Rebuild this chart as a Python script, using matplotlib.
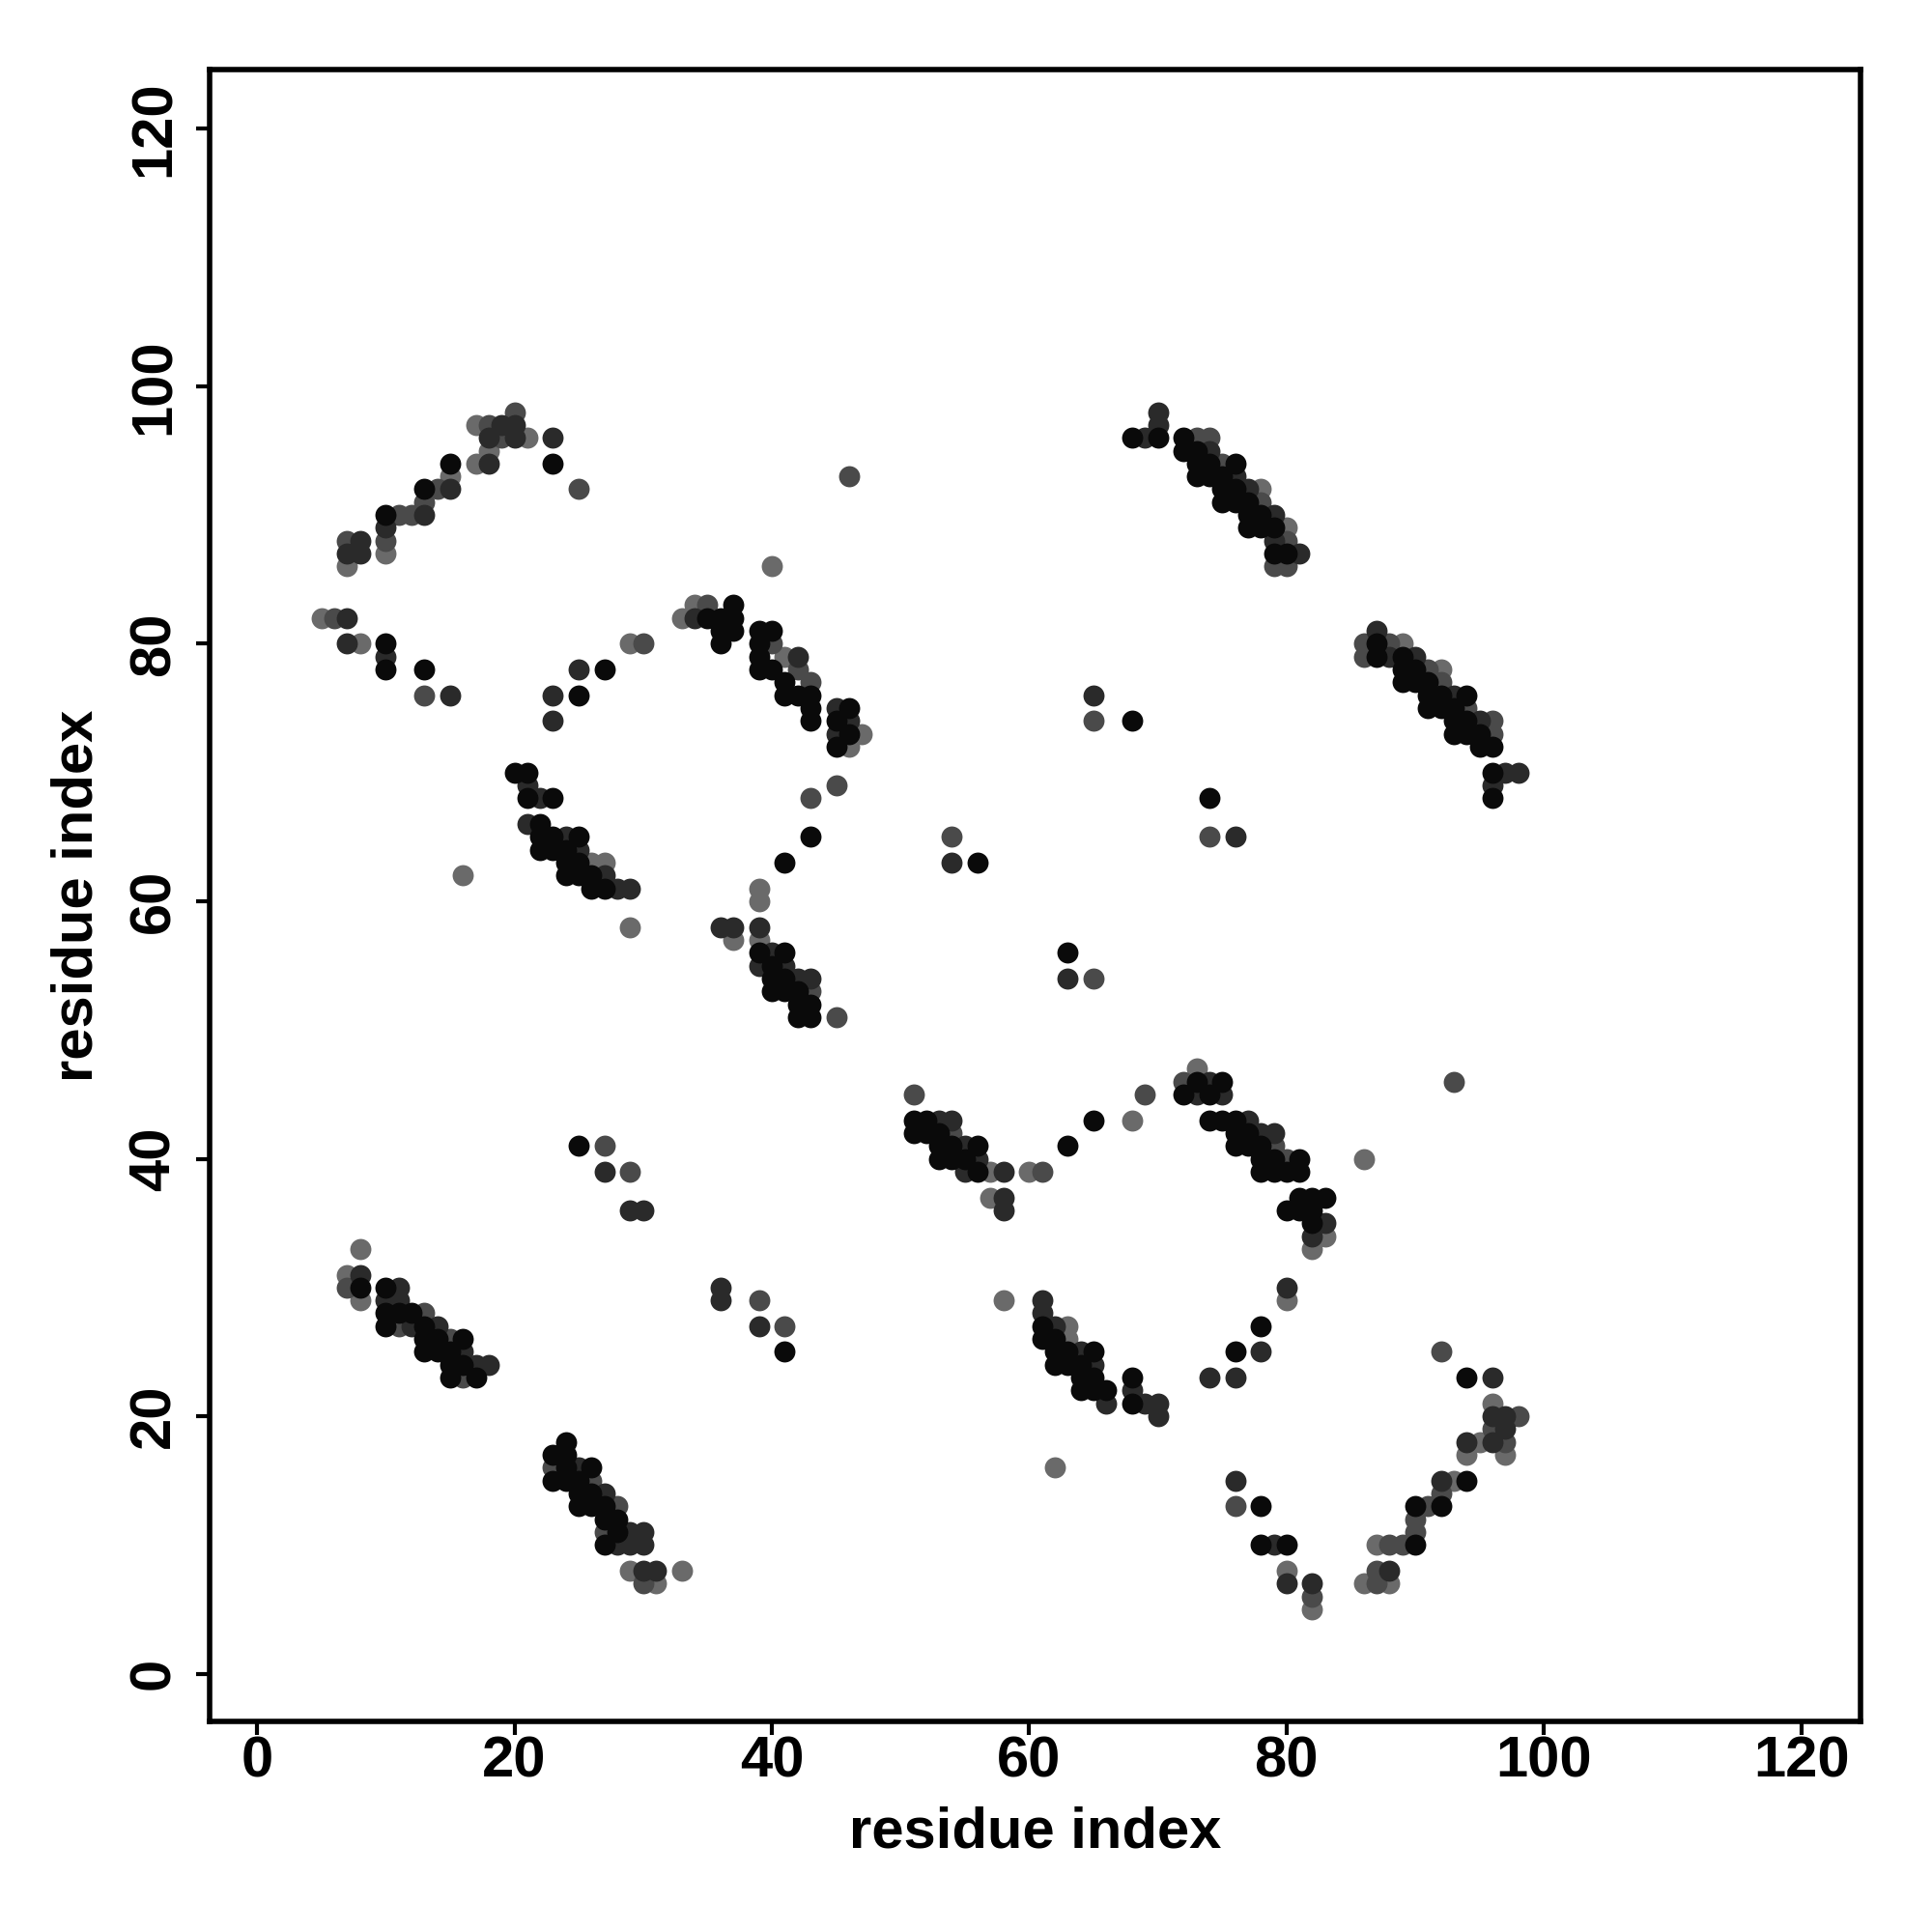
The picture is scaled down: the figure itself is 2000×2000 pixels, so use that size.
import matplotlib
matplotlib.use("Agg")
import matplotlib.pyplot as plt

# contact points (residue i, residue j), grouped by grey level
black_pts = [
    (15, 94), (23, 94), (13, 92), (10, 90), (10, 80), (10, 78), (13, 78), (27, 78), (25, 76),
    (37, 83), (35, 82), (36, 82), (37, 82), (36, 81), (37, 81), (39, 81), (40, 81),
    (36, 80), (39, 80), (39, 79), (39, 78), (40, 78), (41, 77), (41, 76), (42, 76), (43, 76),
    (43, 75), (46, 75), (43, 74), (45, 74), (46, 73), (45, 72), (20, 70), (21, 70),
    (21, 68), (23, 68), (22, 66), (22, 65), (23, 65), (25, 65), (43, 65), (22, 64), (23, 64),
    (24, 64), (24, 63), (25, 63), (41, 63), (24, 62), (25, 62), (26, 62), (26, 61), (27, 61),
    (39, 56), (41, 56), (40, 55), (40, 54), (41, 54), (40, 53), (41, 53), (42, 53),
    (42, 52), (43, 52), (42, 51), (43, 51),
    (68, 96), (70, 96), (72, 96), (72, 95), (73, 95), (73, 94), (74, 94), (76, 94),
    (73, 93), (74, 93), (75, 93), (75, 92), (76, 92), (75, 91), (76, 91), (77, 91),
    (77, 90), (78, 90), (77, 89), (78, 89), (79, 89), (79, 87), (80, 87),
    (87, 80), (87, 79), (89, 79), (89, 78), (90, 78), (89, 77), (90, 77), (91, 77),
    (91, 76), (92, 76), (94, 76), (91, 75), (92, 75), (93, 75), (93, 74), (94, 74),
    (93, 73), (94, 73), (95, 73), (95, 72), (96, 72), (96, 70), (96, 68),
    (68, 74), (74, 68), (56, 63), (63, 56),
    (51, 43), (52, 43), (65, 43), (51, 42), (52, 42), (53, 42), (53, 41), (54, 41), (56, 41),
    (63, 41), (53, 40), (54, 40), (55, 40), (56, 39),
    (73, 46), (75, 46), (72, 45), (74, 45), (74, 43), (75, 43), (76, 43), (76, 42), (77, 42),
    (76, 41), (77, 41), (78, 41), (78, 40), (79, 40), (81, 40), (78, 39), (79, 39), (80, 39),
    (81, 39), (81, 37), (82, 37), (83, 37), (80, 36), (81, 36), (82, 36), (82, 35),
    (25, 41), (41, 25),
    (8, 30), (10, 30), (10, 28), (11, 28), (12, 28), (10, 27), (13, 27), (13, 26), (14, 26),
    (16, 26), (13, 25), (14, 25), (15, 25), (15, 24), (16, 24), (15, 23), (17, 23),
    (24, 18), (23, 17), (24, 17), (24, 16), (26, 16), (23, 15), (24, 15), (25, 15),
    (25, 14), (26, 14), (25, 13), (26, 13), (27, 13), (27, 12), (28, 12), (28, 11), (27, 10),
    (61, 27), (61, 26), (62, 26), (62, 25), (63, 25), (65, 25), (62, 24), (63, 24), (64, 24),
    (64, 23), (65, 23), (68, 23), (64, 22), (65, 22), (66, 22), (68, 21), (76, 25), (78, 27),
    (94, 23), (94, 15), (78, 13), (90, 13), (92, 13), (78, 10), (80, 10), (90, 10),
]

dark_pts = [
    (19, 97), (20, 97), (18, 96), (20, 96), (23, 96), (18, 94), (15, 92), (13, 90), (10, 89),
    (8, 88), (7, 87), (8, 87), (7, 82), (7, 80), (10, 79), (25, 78), (15, 76), (23, 76), (23, 74),
    (34, 82), (42, 79), (45, 75), (46, 74), (45, 73), (21, 69), (22, 68), (21, 66), (24, 65),
    (25, 64), (27, 62), (28, 61), (29, 61), (36, 58), (37, 58), (39, 58), (40, 56), (39, 55),
    (41, 55), (42, 54), (43, 54),
    (70, 98), (70, 97), (69, 96), (74, 95), (76, 93), (77, 92), (79, 90), (79, 88), (81, 87),
    (87, 81), (88, 79), (90, 79), (93, 76), (95, 74), (97, 70), (98, 70), (96, 69),
    (65, 76), (76, 65), (54, 63), (63, 54),
    (53, 43), (54, 43), (55, 41), (56, 40), (55, 39), (58, 39), (58, 37), (58, 36),
    (74, 46), (73, 45), (75, 45), (77, 43), (78, 42), (79, 42), (83, 35), (82, 34),
    (27, 39), (29, 36), (30, 36), (36, 30), (36, 29), (39, 27),
    (8, 31), (11, 30), (10, 29), (11, 29), (12, 27), (14, 27), (16, 25), (17, 24), (18, 24),
    (25, 16), (27, 14), (29, 11), (30, 11), (28, 10), (29, 10), (30, 10), (30, 8), (31, 8),
    (61, 29), (61, 28), (62, 27), (64, 25), (65, 24), (74, 23), (76, 23), (68, 22), (66, 21),
    (69, 21), (70, 21), (70, 20), (78, 25), (80, 30), (76, 15),
    (96, 23), (96, 20), (97, 20), (97, 19), (94, 18), (96, 18), (92, 15), (79, 10), (88, 8),
    (80, 7), (82, 7),
]

mid_pts = [
    (20, 98), (18, 97), (19, 96), (14, 92), (25, 92), (13, 91), (11, 90), (12, 90), (7, 88),
    (10, 88), (6, 82), (13, 76),
    (35, 83), (30, 80), (40, 80), (42, 78), (43, 77), (45, 69), (43, 68), (43, 53), (45, 51),
    (73, 96), (74, 96), (75, 94), (78, 91), (80, 88), (79, 86), (80, 86),
    (86, 80), (88, 80), (86, 79), (91, 78), (92, 77), (94, 75), (96, 74), (96, 73),
    (46, 93), (65, 74), (74, 65), (54, 65), (65, 54),
    (51, 45), (54, 42), (61, 39), (69, 45), (72, 46), (79, 41), (80, 40), (93, 46),
    (27, 41), (29, 39), (39, 29), (41, 27),
    (7, 30), (13, 28), (11, 27), (15, 26), (16, 23),
    (23, 16), (26, 15), (28, 13), (27, 11), (30, 7),
    (92, 25), (98, 20), (96, 19), (97, 18), (92, 14), (76, 13), (91, 13), (90, 12), (90, 11),
    (88, 10), (89, 10), (87, 8), (87, 7), (82, 6),
]

light_pts = [
    (17, 97), (21, 96), (18, 95), (17, 94), (15, 93), (10, 87), (7, 86), (5, 82), (8, 80),
    (40, 86), (34, 83), (33, 82), (29, 80), (41, 79), (47, 73), (46, 72),
    (26, 63), (27, 63), (39, 61), (39, 60), (29, 58), (37, 57), (39, 57), (16, 62),
    (78, 92), (80, 89), (89, 80), (92, 78),
    (68, 43), (57, 39), (60, 39), (57, 37), (73, 47), (86, 40), (83, 34), (82, 33),
    (8, 33), (7, 31), (8, 29),
    (29, 8), (33, 8), (31, 7),
    (58, 29), (63, 27), (63, 26), (80, 29), (62, 16),
    (96, 21), (95, 18), (94, 17), (97, 17), (93, 15), (87, 10), (80, 8), (86, 7), (88, 7),
    (82, 5),
]

groups = [
    (light_pts, "#6a6a6a"),
    (mid_pts, "#4a4a4a"),
    (dark_pts, "#2a2a2a"),
    (black_pts, "#0a0a0a"),
]

plt.rcParams['font.family'] = ['Liberation Sans', 'DejaVu Sans']
plt.rcParams['font.weight'] = 'bold'

fig = plt.figure(figsize=(10, 10), dpi=200)
ax = fig.add_axes([0.1084, 0.109, 0.8546, 0.855])

for pts, col in groups:
    xs = [p[0] for p in pts]
    ys = [p[1] for p in pts]
    ax.scatter(xs, ys, s=62, c=col, linewidths=0)

ax.set_xlim(-3.7, 124.6)
ax.set_ylim(-3.7, 124.6)
ax.set_xticks(range(0, 121, 20))
ax.set_yticks(range(0, 121, 20))
ax.tick_params(direction='out', length=5, width=1.5, labelsize=21.5)
ax.tick_params(axis='x', pad=0.3)
ax.tick_params(axis='y', pad=5.6)
for lab in ax.get_yticklabels():
    lab.set_rotation(90)
    lab.set_va('center')
for sp in ax.spines.values():
    sp.set_linewidth(2)

ax.set_xlabel('residue index', fontsize=21.5, fontweight='bold', labelpad=6.5)
ax.set_ylabel('residue index', fontsize=21.5, fontweight='bold', labelpad=9)

fig.savefig('out.png', dpi=200)
